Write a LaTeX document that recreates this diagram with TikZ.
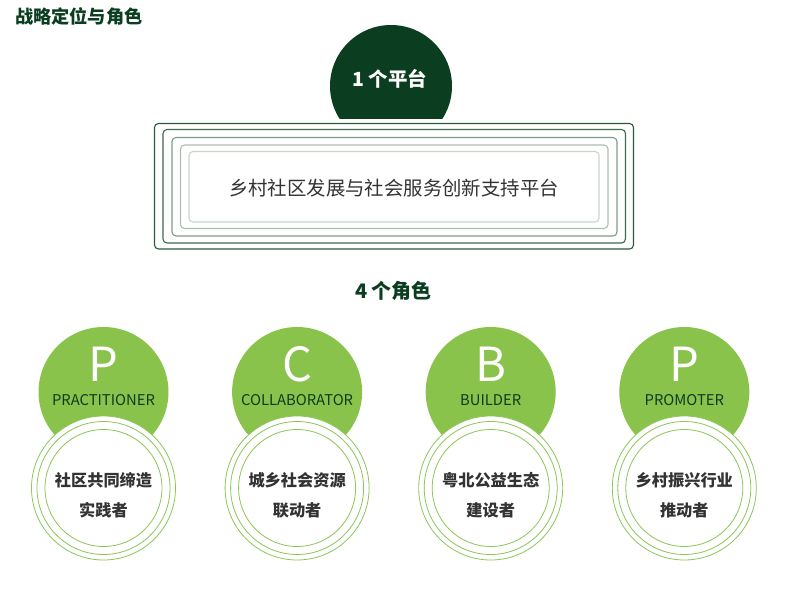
\documentclass[tikz,border=0pt]{standalone}
\usepackage{fontspec}
\setmainfont{Noto Sans CJK SC}
\definecolor{dkgreen}{HTML}{0B3D20}
\definecolor{ltgreen}{HTML}{8AC34B}
\definecolor{ringgreen}{HTML}{8CC657}
\definecolor{txtgray}{HTML}{333333}
\definecolor{rA}{HTML}{2B5A3A}
\definecolor{rB}{HTML}{3E6A4E}
\definecolor{rC}{HTML}{7D9C88}
\definecolor{rD}{HTML}{A9BFB1}
\definecolor{rE}{HTML}{C6D4CB}
\tikzset{
  frame/.style={draw, rounded corners=4pt, line width=1.1pt},
  greencirc/.style={circle, fill=ltgreen, minimum size=130pt, inner sep=0pt},
  bigletter/.style={text=white, font=\fontsize{47}{47}\selectfont},
  rolename/.style={text=dkgreen, font=\fontsize{14.8}{15}\selectfont},
  roletext/.style={text=txtgray, font=\fontsize{16.2}{17}\selectfont\bfseries, align=center},
  ringline/.style={draw=ringgreen, line width=0.8pt},
}
\begin{document}
\begin{tikzpicture}[x=1pt,y=-1pt]
\useasboundingbox (0,0) rectangle (793,589);
% title
\node[anchor=west, text=dkgreen, font=\fontsize{18.2}{19}\selectfont\bfseries, inner sep=0pt] (title) at (15,16) {战略定位与角色};
% dark circle clipped
\begin{scope}
  \clip (300,0) rectangle (480,118);
  \fill[dkgreen] (391,86) circle (61);
\end{scope}
\node[text=white, font=\fontsize{19.5}{20}\selectfont\bfseries] (one) at (390,79) {1 个平台};
% frames
\draw[frame, draw=rA] (154.5,123.5) rectangle (633.5,249);
\draw[frame, draw=rB] (163,129.5) rectangle (625.5,243);
\draw[frame, draw=rC] (172,137.5) rectangle (617,236);
\draw[frame, draw=rD] (180.5,145) rectangle (608,228.5);
\draw[frame, draw=rE] (189,151.5) rectangle (599,222);
\node[text=txtgray, font=\fontsize{19.4}{20}\selectfont] (plat) at (394,188) {乡村社区发展与社会服务创新支持平台};
\node[text=dkgreen, font=\fontsize{20}{20}\selectfont\bfseries] (four) at (393.5,291) {4 个角色};
% roles
\foreach \i/\L/\N/\A/\B in {0/P/PRACTITIONER/社区共同缔造/实践者,1/C/COLLABORATOR/城乡社会资源/联动者,2/B/BUILDER/粤北公益生态/建设者,3/P/PROMOTER/乡村振兴行业/推动者}{
  \pgfmathsetmacro{\cx}{103.5+193.6*\i}
  \node[greencirc] (g\i) at (\cx,392) {};
  \node[bigletter] (l\i) at (\cx,364) {\L};
  \node[rolename] (n\i) at (\cx,400) {\N};
  \fill[white] (\cx,488) circle (72);
  \draw[ringline] (\cx,488) circle (72);
  \draw[ringline] (\cx,488) circle (66.5);
  \draw[ringline] (\cx,488) circle (58.5);
  \node[roletext] (a\i) at (\cx,480) {\A};
  \node[roletext] (b\i) at (\cx,510) {\B};
}
\end{tikzpicture}
\end{document}
